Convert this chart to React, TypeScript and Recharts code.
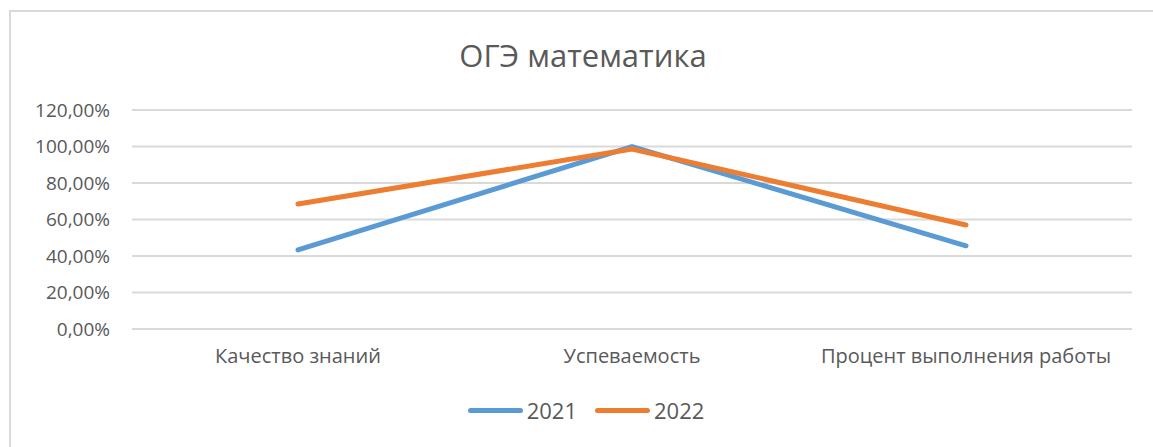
import {
  LineChart,
  Line,
  XAxis,
  YAxis,
  CartesianGrid,
  Legend,
} from "recharts";

const categories = ["Качество знаний", "Успеваемость", "Процент выполнения работы"];
const values2021 = [0.433, 1.0, 0.456];
const values2022 = [0.685, 0.986, 0.57];
const yTicks = [0, 0.2, 0.4, 0.6, 0.8, 1.0, 1.2];

const data = categories.map((name, i) => ({
  name,
  y2021: values2021[i],
  y2022: values2022[i],
}));

const FONT = "'Open Sans', 'Noto Sans', sans-serif";
const TEXT = "#595959";

const fmt = (v: number) => (v * 100).toFixed(2).replace(".", ",") + "%";

const LegendContent = ({ payload }: any) => (
  <div style={{ display: "flex", justifyContent: "center", alignItems: "center", fontFamily: FONT, fontSize: 22, color: TEXT }}>
    {(payload || []).map((p: any) => (
      <div key={p.value} style={{ display: "flex", alignItems: "center", marginRight: 18 }}>
        <span style={{ display: "inline-block", width: 55, height: 5, borderRadius: 3, background: p.color, marginRight: 4 }} />
        <span>{p.value}</span>
      </div>
    ))}
  </div>
);

const App = () => {
  return (
    <div style={{ position: "absolute", left: 0, top: 0, width: 1153, height: 447, background: "#fff", overflow: "hidden" }}>
      <div style={{ position: "absolute", left: 9, top: 10, width: 1200, height: 500, border: "2px solid #d9d9d9", boxSizing: "border-box" }} />
      <div style={{ position: "absolute", left: 0, top: 34, width: 1166, textAlign: "center", fontFamily: FONT, fontSize: 31, color: TEXT }}>
        ОГЭ математика
      </div>
      <LineChart
        width={1153}
        height={447}
        data={data}
        margin={{ top: 110, right: 21, left: 0, bottom: 78 }}
        style={{ position: "absolute", left: 0, top: 0 }}
      >
        <CartesianGrid vertical={false} stroke="#d9d9d9" strokeWidth={2} />
        <XAxis
          dataKey="name"
          axisLine={false}
          tickLine={false}
          tickSize={0}
          tickMargin={20}
          height={40}
          interval={0}
          tick={{ fill: TEXT, fontSize: 20, fontFamily: FONT }}
          padding={{ left: 166, right: 166 }}
        />
        <YAxis
          width={132}
          domain={[0, 1.2]}
          ticks={yTicks}
          tickFormatter={fmt}
          axisLine={false}
          tickLine={false}
          tickSize={0}
          tickMargin={22}
          tick={{ fill: TEXT, fontSize: 19, fontFamily: FONT }}
        />
        <Legend
          verticalAlign="middle"
          align="center"
          layout="horizontal"
          wrapperStyle={{ top: 395, left: 0, width: 1190 }}
          content={<LegendContent />}
        />
        <Line
          type="linear"
          dataKey="y2021"
          name="2021"
          stroke="#5B9BD5"
          strokeWidth={5}
          strokeLinecap="round"
          dot={false}
          isAnimationActive={false}
        />
        <Line
          type="linear"
          dataKey="y2022"
          name="2022"
          stroke="#ED7D31"
          strokeWidth={5}
          strokeLinecap="round"
          dot={false}
          isAnimationActive={false}
        />
      </LineChart>
    </div>
  );
};

export default App;
